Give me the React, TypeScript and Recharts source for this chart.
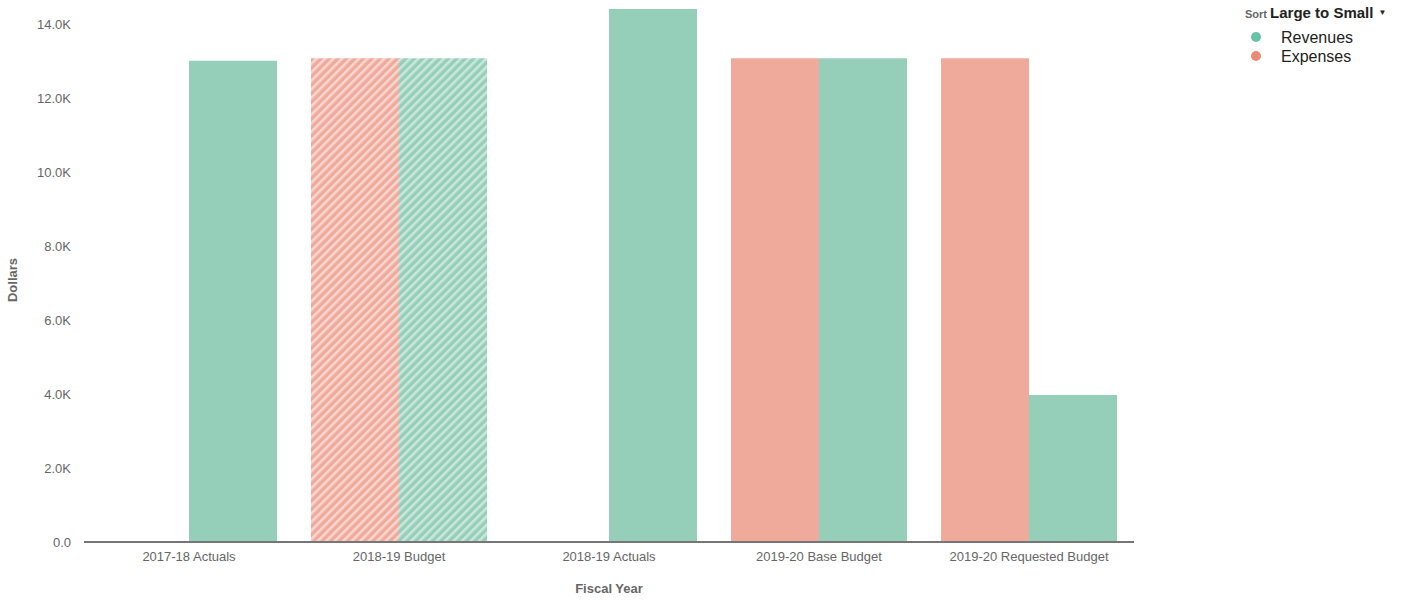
import React from 'react';
import { BarChart, Bar, XAxis, YAxis, Cell } from 'recharts';

const categories = ['2017-18 Actuals', '2018-19 Budget', '2018-19 Actuals', '2019-20 Base Budget', '2019-20 Requested Budget'];
const expenses: (number | null)[] = [null, 13100, null, 13100, 13100];
const revenues: number[] = [13030, 13100, 14430, 13100, 3980];
const hatched: boolean[] = [false, true, false, false, false];
const yTicks = [0, 2000, 4000, 6000, 8000, 10000, 12000, 14000];
const legendItems = [
  { label: 'Revenues', color: '#66c2a5' },
  { label: 'Expenses', color: '#ec8a78' },
];

const REV = '#95cfb9';
const EXP = '#f0aa9c';
const FONT = '"Liberation Sans", Arial, Helvetica, sans-serif';

const data = categories.map((c, i) => ({ name: c, expenses: expenses[i], revenues: revenues[i], hatched: hatched[i] }));

const fmt = (v: number) => (v === 0 ? '0.0' : `${(v / 1000).toFixed(1)}K`);

const LegendBox = () => (
  <div style={{ fontFamily: FONT, position: 'absolute', left: 1230, top: 0, width: 176, height: 70 }}>
    <div style={{ position: 'absolute', left: 15, top: 4, whiteSpace: 'nowrap' }}>
      <span style={{ fontSize: 11, fontWeight: 'bold', color: '#666' }}>Sort </span>
      <span style={{ fontSize: 15, fontWeight: 'bold', color: '#222' }}>Large to Small</span>
      <span style={{ fontSize: 8, color: '#222', marginLeft: 5, position: 'relative', top: -3 }}>▼</span>
    </div>
    {legendItems.map((it, i) => (
      <div key={it.label} style={{ position: 'absolute', left: 21, top: 29 + i * 19, height: 18, display: 'flex', alignItems: 'center' }}>
        <span style={{ width: 10, height: 10, borderRadius: 5, background: it.color, display: 'inline-block', marginTop: -3 }} />
        <span style={{ fontSize: 16, color: '#222', marginLeft: 20 }}>{it.label}</span>
      </div>
    ))}
  </div>
);

export default function App() {
  return (
    <div style={{ position: 'absolute', left: 0, top: 0, width: 1406, height: 601, background: '#fff' }}>
      <BarChart
        width={1406}
        height={601}
        data={data}
        margin={{ top: 9, right: 272, left: 0, bottom: 0 }}
        barCategoryGap={17}
        barGap={0}
      >
        <defs>
          <pattern id="hatchRev" patternUnits="userSpaceOnUse" width="6" height="6" patternTransform="rotate(45)">
            <rect width="6" height="6" fill={REV} />
            <rect width="2.6" height="6" fill="#ffffff" fillOpacity={0.5} />
          </pattern>
          <pattern id="hatchExp" patternUnits="userSpaceOnUse" width="6" height="6" patternTransform="rotate(45)">
            <rect width="6" height="6" fill={EXP} />
            <rect width="2.6" height="6" fill="#ffffff" fillOpacity={0.5} />
          </pattern>
        </defs>
        <XAxis
          dataKey="name"
          height={59}
          tickLine={false}
          tickSize={0}
          tickMargin={10}
          axisLine={{ stroke: '#767676', strokeWidth: 2 }}
          tick={{ fill: '#666', fontSize: 13, fontFamily: FONT }}
          interval={0}
          label={{ value: 'Fiscal Year', position: 'insideBottom', offset: 8, fill: '#666', fontSize: 13, fontWeight: 'bold', fontFamily: FONT }}
        />
        <YAxis
          width={84}
          domain={[0, 14430]}
          ticks={yTicks}
          tickFormatter={fmt}
          tickLine={false}
          axisLine={false}
          tickSize={0}
          tickMargin={13}
          tick={{ fill: '#666', fontSize: 13, fontFamily: FONT }}
          label={{
            content: () => (
              <text x={17} y={280} transform="rotate(-90 17 280)" textAnchor="middle" fill="#666" fontSize={13} fontWeight="bold" fontFamily={FONT}>
                Dollars
              </text>
            ),
          }}
        />
        <Bar dataKey="expenses" name="Expenses" fill={EXP} isAnimationActive={false}>
          {data.map((d, i) => (
            <Cell key={i} fill={d.hatched ? 'url(#hatchExp)' : EXP} />
          ))}
        </Bar>
        <Bar dataKey="revenues" name="Revenues" fill={REV} isAnimationActive={false}>
          {data.map((d, i) => (
            <Cell key={i} fill={d.hatched ? 'url(#hatchRev)' : REV} />
          ))}
        </Bar>
      </BarChart>
      <LegendBox />
    </div>
  );
}
